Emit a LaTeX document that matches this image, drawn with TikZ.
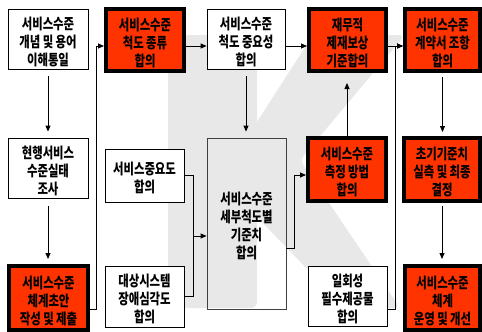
\documentclass[tikz,border=0pt]{standalone}
\usepackage{fontspec}
\newfontfamily\kr[FakeStretch=0.77]{Noto Sans CJK KR}
\usetikzlibrary{arrows.meta}
\definecolor{kred}{RGB}{255,51,0}
\definecolor{wmark}{RGB}{232,232,232}
\newcommand\wsp{\hspace{2.5pt}}
\newcommand\bt[1]{\raisebox{-4.5pt}[\height][\depth]{\begin{tabular}{@{}c@{}}#1\end{tabular}}}
\tikzset{
  txt/.style={inner sep=0pt, text=black, font=\kr\bfseries\fontsize{14.8}{18}\selectfont},
  wbox/.style={txt, draw=black, line width=0.8pt, fill=white},
  rbox/.style={txt, draw=black, line width=4pt, fill=kred},
  conn/.style={line width=0.8pt, -{Triangle[length=6pt,width=5pt]}},
  plain/.style={line width=0.8pt},
}
\begin{document}
\begin{tikzpicture}[x=1pt,y=-1pt]
\useasboundingbox[fill=white] (0,0) rectangle (482,332);
% watermark K
\fill[wmark, rounded corners=6pt] (168,35) rectangle (257,308);
\fill[wmark, rounded corners=6pt] (255,125) -- (313,35) -- (405,35) -- (300,160) -- (400,308) -- (345,308) -- (255,215) -- cycle;
% nodes
\node[wbox, minimum width=80pt, minimum height=60pt] (A) at (48,39) {\bt{서비스수준\\개념\wsp 및\wsp 용어\\이해통일}};
\node[rbox, minimum width=78pt, minimum height=62pt] (B) at (145,40) {\bt{서비스수준\\척도\wsp 종류\\합의}};
\node[wbox, minimum width=78pt, minimum height=60pt] (C) at (246,39) {\bt{서비스수준\\척도\wsp 중요성\\합의}};
\node[rbox, minimum width=77pt, minimum height=62pt] (D) at (347.5,40) {\bt{재무적\\제재보상\\기준합의}};
\node[rbox, minimum width=75pt, minimum height=62pt] (E) at (442.5,40) {\bt{서비스수준\\계약서\wsp 조항\\합의}};
\node[wbox, minimum width=80pt, minimum height=60pt] (F) at (48,168) {\bt{현행서비스\\수준실태\\조사}};
\node[rbox, minimum width=79pt, minimum height=64pt] (G) at (48.5,298) {\bt{서비스수준\\체계초안\\작성\wsp 및\wsp 제출}};
\node[wbox, minimum width=79pt, minimum height=53pt] (H) at (144.5,175.5) {\bt{서비스중요도\\합의}};
\node[wbox, minimum width=79pt, minimum height=61pt] (I) at (144.5,296.5) {\bt{대상시스템\\장애심각도\\합의}};
\node[txt, draw=black!75, line width=0.8pt, minimum width=79pt, minimum height=171pt] (J) at (246.5,223.5) {\bt{서비스수준\\세부척도별\\기준치\\합의}};
\node[rbox, minimum width=78pt, minimum height=63pt] (K) at (347,169.5) {\bt{서비스수준\\측정\wsp 방법\\합의}};
\node[rbox, minimum width=76pt, minimum height=63pt] (L) at (442,169.5) {\bt{초기기준치\\실측\wsp 및\wsp 최종\\결정}};
\node[rbox, minimum width=75pt, minimum height=64pt] (M) at (442.5,298) {\bt{서비스수준\\체계\\운영\wsp 및\wsp 개선}};
\node[wbox, minimum width=79pt, minimum height=60pt] (N) at (347.5,296) {\bt{일회성\\필수제공물\\합의}};
% coordinates
\coordinate (r1) at (0,46);
\coordinate (g1) at (96,309);
\coordinate (jn) at (193,236);
\coordinate (k1) at (294,248);
\coordinate (k2) at (294,175);
\coordinate (n1) at (395,309);
% connectors
\draw[conn, shorten <=7pt, shorten >=6pt] (A.south) -- (F.north);
\draw[conn, shorten <=8pt, shorten >=5pt] (F.south) -- (F.south |- G.north);
\draw[conn] (B.east |- r1) -- (C.west |- r1);
\draw[conn] (C.east |- r1) -- (D.west |- r1);
\draw[conn] (D.east |- r1) -- (E.west |- r1);
\draw[conn] (G.east |- g1) -- (g1) -- (g1 |- r1) -- (B.west |- r1);
\draw[conn, shorten <=7pt, shorten >=6pt] (C.south) -- (C.south |- J.north);
\draw[plain] (H.east) -| (jn);
\draw[plain] (I.east) -| (jn);
\draw[conn] (jn) -- (J.west |- jn);
\draw[conn] (J.east |- k1) -- (k1) -- (k2) -- (K.west |- k2);
\draw[conn, shorten >=10pt] (K.north) -- (K.north |- D.south);
\draw[conn, shorten <=4pt, shorten >=4pt] (E.south) -- (E.south |- L.north);
\draw[conn, shorten <=3pt, shorten >=5pt] (L.south) -- (L.south |- M.north);
\draw[conn] (N.east |- n1) -- (n1) -- (n1 |- r1) -- (E.west |- r1);
\end{tikzpicture}
\end{document}
